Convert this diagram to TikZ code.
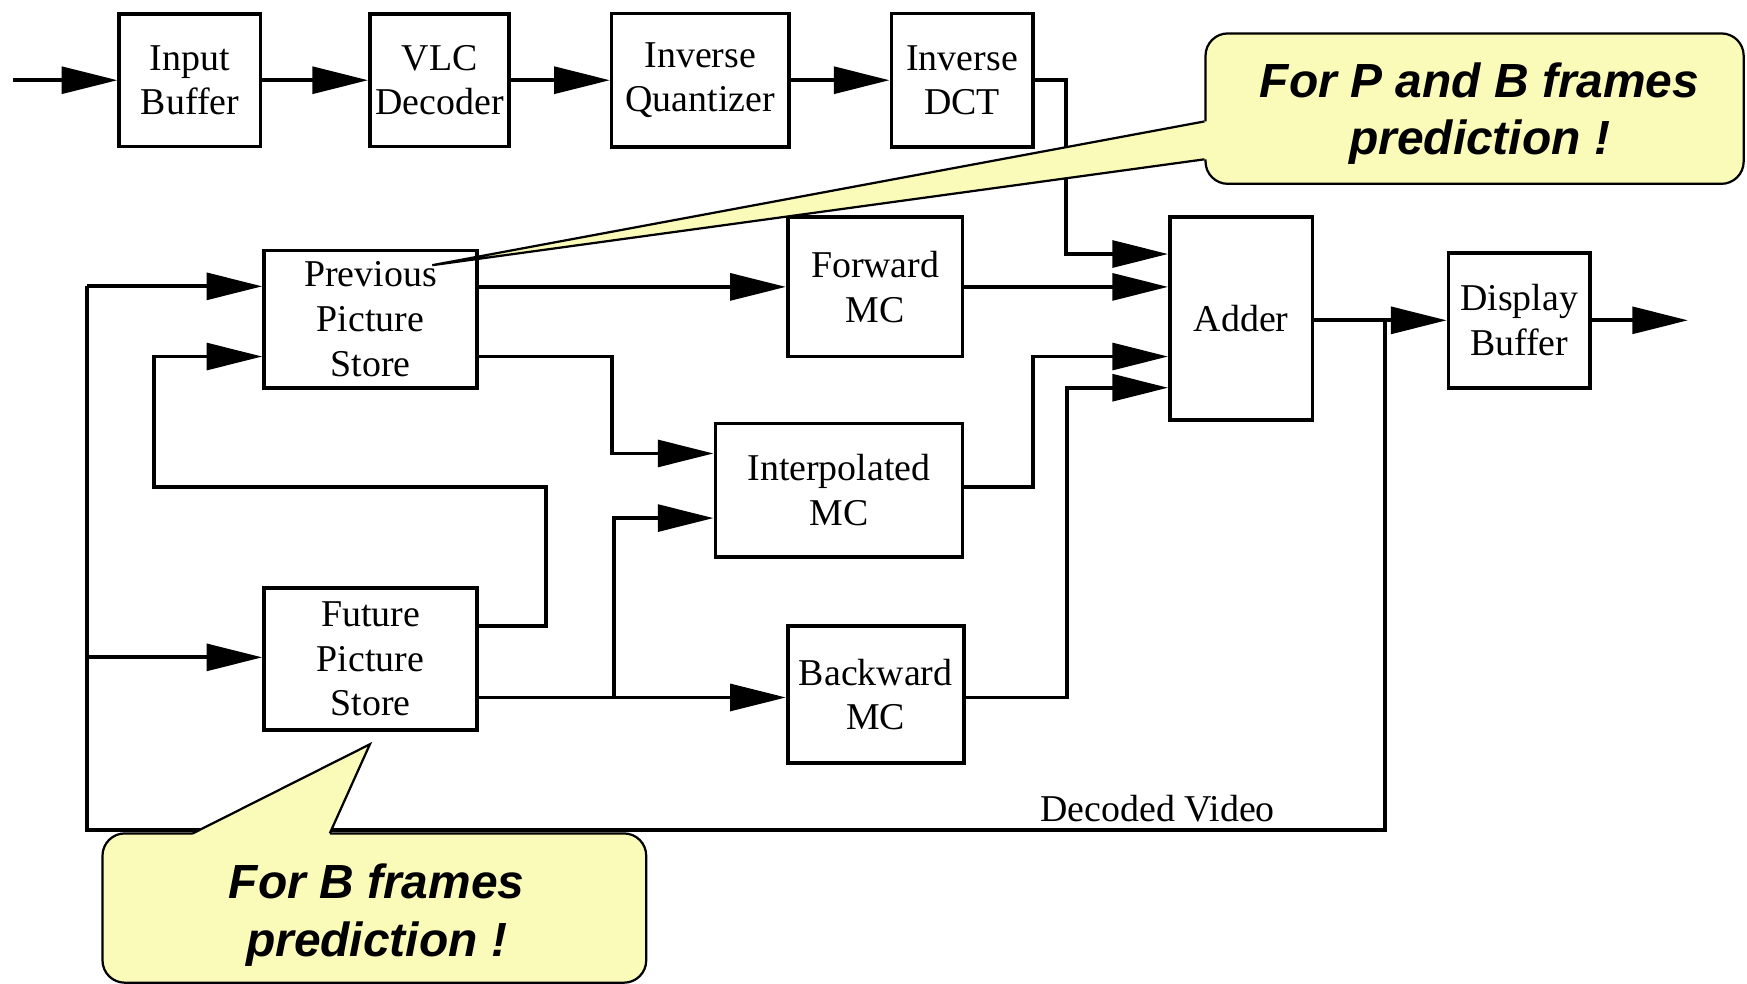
\documentclass[tikz,border=0pt]{standalone}
\usepackage{fontspec}
\setmainfont{Liberation Serif}
\newfontfamily\callfont{Liberation Sans}
\usetikzlibrary{arrows.meta}
\definecolor{cfill}{RGB}{250,250,185}
\begin{document}
\begin{tikzpicture}[x=0.5pt,y=-0.5pt,
  blk/.style={draw, line width=1.6pt, inner sep=0pt, align=center, font=\fontsize{17}{20}\selectfont},
  wire/.style={line width=1.7pt},
  arr/.style={wire, -{Triangle[length=25pt,width=12pt]}},
  callout/.style={draw, line width=1pt, fill=cfill, rounded corners=10pt},
  calltext/.style={align=center, inner sep=0pt, font=\callfont\bfseries\itshape\fontsize{21.5}{26}\selectfont},
  ptrfill/.style={fill=cfill},
  ptrline/.style={line width=1pt, line join=miter}]
\useasboundingbox (0,0) rectangle (1568,883);

% top row
\node[blk, minimum width=63.5pt, minimum height=59.5pt] (inbuf) at (170.5,72) {Input\\Buffer};
\node[blk, minimum width=62.5pt, minimum height=59.5pt] (vlc) at (394.5,72) {VLC\\Decoder};
\node[blk, minimum width=79.5pt, minimum height=60pt] (iq) at (628.5,72) {Inverse\\Quantizer};
\node[blk, minimum width=63.5pt, minimum height=60pt] (idct) at (863.5,72) {Inverse\\DCT};

% middle
\node[blk, minimum width=95.5pt, minimum height=61.5pt] (prev) at (332.5,286.5) {Previous\\Picture\\Store};
\node[blk, minimum width=95.5pt, minimum height=63.5pt] (fut) at (332.5,591.5) {Future\\Picture\\Store};
\node[blk, minimum width=78.5pt, minimum height=62.5pt] (fwd) at (785.5,257.5) {Forward\\MC};
\node[blk, minimum width=111pt, minimum height=60pt] (interp) at (753,440) {Interpolated\\MC};
\node[blk, minimum width=79pt, minimum height=61.5pt] (bwd) at (786,623.5) {Backward\\MC};
\node[blk, minimum width=64pt, minimum height=91pt] (adder) at (1114,286) {\raisebox{-3pt}{Adder}};
\node[blk, minimum width=63.5pt, minimum height=60.5pt] (disp) at (1363.5,287.5) {Display\\Buffer};

\coordinate (in) at (12,72);
\coordinate (out) at (1515,287.5);

% top chain
\draw[arr] (in) -- (inbuf.west);
\draw[arr] (inbuf.east) -- (vlc.west);
\draw[arr] (vlc.east) -- (iq.west);
\draw[arr] (iq.east) -- (idct.west);
\draw[arr] (idct.east) -- (957,72) -- (957,228) -- (adder.west |- 0,228);

% stores to MCs
\draw[arr] (prev.east |- fwd.west) -- (fwd.west);
\draw[arr] (fwd.east) -- (adder.west |- fwd.east);
\draw[arr] (prev.east |- 0,320) -- (549,320) -- (549,407) -- (interp.west |- 0,407);
\draw[arr] (fut.east |- 0,626) -- (bwd.west |- 0,626);
\draw[arr] (551,626) -- (551,465) -- (interp.west |- 0,465);
\draw[arr] (fut.east |- 0,562) -- (490,562) -- (490,437) -- (138,437) -- (138,320) -- (prev.west |- 0,320);

% MCs to adder
\draw[arr] (interp.east |- 0,437) -- (927,437) -- (927,320) -- (adder.west |- 0,320);
\draw[arr] (bwd.east |- 0,626) -- (958,626) -- (958,348) -- (adder.west |- 0,348);

% output and feedback
\draw[arr] (adder.east |- disp.west) -- (disp.west);
\draw[arr] (disp.east) -- (out);
\draw[wire] (1243,287.5) -- (1243,745) -- (78,745) -- (78,257);
\draw[arr] (78,257) -- (prev.west |- 0,257);
\draw[arr] (78,590) -- (fut.west |- 0,590);
\node[font=\fontsize{17}{20}\selectfont] (dv) at (1039,726) {Decoded Video};

% callouts
\node[callout, minimum width=241.5pt, minimum height=67.5pt] (cP) at (1323.5,97.5) {};
\node[calltext] (cPtext) at (1328,102) {For P and B frames\\prediction !};
\coordinate (tipP) at (388,238);
\fill[ptrfill] (tipP) -- (cP.west |- 0,109) -- (1094,109) -- (1094,143) -- (cP.west |- 0,143) -- cycle;
\draw[ptrline] (cP.west |- 0,109) -- (tipP) -- (cP.west |- 0,143);

\node[callout, minimum width=244pt, minimum height=67pt] (cB) at (336,815) {};
\node[calltext] (cBtext) at (338,821) {For B frames\\prediction !};
\coordinate (tipB) at (332,668);
\fill[ptrfill] (tipB) -- (173,748) -- (173,760) -- (296,760) -- (296,748) -- cycle;
\draw[ptrline] (173,748) -- (tipB) -- (296,748);
\end{tikzpicture}
\end{document}
